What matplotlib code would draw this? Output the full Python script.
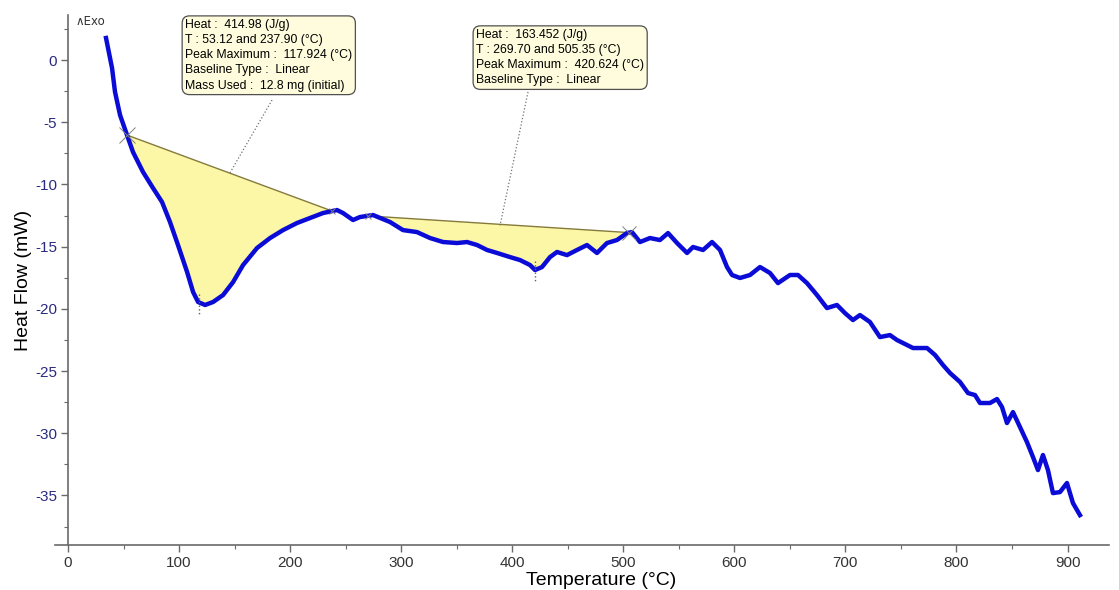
import matplotlib
matplotlib.use('Agg')
import matplotlib.pyplot as plt
import numpy as np

# Traced DSC curve: temperature (C) and heat flow (mW)
temperature = [
    34.2, 36.0, 39.6, 42.3, 46.8, 53.1, 58.5, 67.5, 76.5, 84.6,
    91.8, 99.0, 107.2, 112.6, 117.1, 123.4, 130.6, 139.6, 148.6, 157.6,
    170.2, 181.9, 193.6, 206.2, 217.9, 229.6, 242.2, 247.6, 256.6, 262.9,
    274.6, 289.9, 301.6, 314.2, 326.0, 337.7, 350.3, 359.3, 368.3, 377.3,
    386.3, 398.0, 407.0, 416.0, 420.5, 426.8, 434.0, 440.3, 449.3, 458.3,
    467.3, 476.3, 485.3, 494.3, 503.3, 507.8, 515.0, 524.0, 533.0, 540.3,
    548.4, 557.4, 562.8, 571.8, 579.9, 587.1, 593.4, 597.9, 605.1, 614.1,
    623.1, 632.1, 639.3, 650.1, 657.3, 665.4, 674.4, 683.4, 692.4, 699.6,
    706.8, 713.1, 722.1, 731.1, 740.1, 746.5, 755.5, 760.9, 773.5, 780.7,
    787.9, 794.2, 803.2, 810.4, 816.7, 821.2, 830.2, 836.5, 841.0, 845.5,
    850.9, 857.2, 863.5, 868.9, 873.4, 877.9, 882.4, 886.9, 893.2, 899.5,
    904.9, 911.2,
]
heat_flow = [
    1.77, 0.96, -0.64, -2.57, -4.42, -6.03, -7.40, -9.00, -10.29, -11.41,
    -13.02, -14.87, -17.04, -18.65, -19.45, -19.69, -19.45, -18.89, -17.85, -16.48,
    -15.11, -14.31, -13.67, -13.10, -12.70, -12.30, -12.06, -12.30, -12.86, -12.62,
    -12.46, -13.02, -13.67, -13.83, -14.31, -14.63, -14.71, -14.63, -14.87, -15.27,
    -15.51, -15.84, -16.08, -16.48, -16.88, -16.64, -15.84, -15.43, -15.68, -15.27,
    -14.87, -15.51, -14.71, -14.47, -13.91, -13.83, -14.63, -14.31, -14.47, -13.91,
    -14.71, -15.51, -15.03, -15.27, -14.63, -15.27, -16.64, -17.28, -17.52, -17.28,
    -16.64, -17.12, -17.93, -17.28, -17.28, -17.93, -18.89, -19.94, -19.69, -20.34,
    -20.90, -20.50, -21.06, -22.27, -22.11, -22.51, -22.91, -23.15, -23.15, -23.71,
    -24.52, -25.16, -25.88, -26.77, -26.93, -27.57, -27.57, -27.25, -27.89, -29.18,
    -28.30, -29.50, -30.71, -31.91, -32.96, -31.75, -32.96, -34.81, -34.73, -34.00,
    -35.61, -36.58,
]

# Peak integration limits and peak maxima (C)
peak_onsets = [53.12, 269.70]
peak_ends = [237.90, 505.35]
peak_maxima = [117.924, 420.624]

peak_labels = [
    'Heat :  414.98 (J/g)\nT : 53.12 and 237.90 (\u00b0C)\n'
    'Peak Maximum :  117.924 (\u00b0C)\nBaseline Type :  Linear\n'
    'Mass Used :  12.8 mg (initial)',
    'Heat :  163.452 (J/g)\nT : 269.70 and 505.35 (\u00b0C)\n'
    'Peak Maximum :  420.624 (\u00b0C)\nBaseline Type :  Linear',
]

CURVE_COLOR = '#0b0bd8'
FILL_COLOR = '#fbf7a6'
BASELINE_COLOR = '#857a3c'
MARK_COLOR = '#808080'

plt.rcParams['font.family'] = ['Liberation Sans', 'DejaVu Sans']
plt.rcParams['axes.unicode_minus'] = False


def draw_peak(ax, onset, end, peak, mark_sizes):
    """Fill the area between curve and linear baseline, plus the marks."""
    y0 = np.interp(onset, temperature, heat_flow)
    y1 = np.interp(end, temperature, heat_flow)
    x = np.linspace(onset, end, 600)
    y = np.interp(x, temperature, heat_flow)
    base = y0 + (y1 - y0) * (x - onset) / (end - onset)
    ax.fill_between(x, y, base, where=y <= base, interpolate=True,
                    color=FILL_COLOR, lw=0, zorder=1)
    ax.plot([onset, end], [y0, y1], color=BASELINE_COLOR, lw=1.0, zorder=2)

    # limit marks and peak marker
    for xm, ym, ms in zip([onset, end], [y0, y1], mark_sizes):
        ax.plot(xm, ym, ls='none', marker='x', ms=ms, mew=0.7,
                color=MARK_COLOR, zorder=4)
    yp = np.interp(peak, temperature, heat_flow)
    ax.plot([peak, peak], [yp + 0.7, yp - 0.9], ls=':', lw=1.0,
            color='#606060', zorder=4)


fig = plt.figure(figsize=(11.19, 5.90), dpi=100)
ax = fig.add_axes([0.0492, 0.0759, 0.9415, 0.8983])

draw_peak(ax, peak_onsets[0], peak_ends[0], peak_maxima[0], [12, 5])
draw_peak(ax, peak_onsets[1], peak_ends[1], peak_maxima[1], [5, 10])

ax.plot(temperature, heat_flow, color=CURVE_COLOR, lw=3.2,
        solid_joinstyle='round', zorder=3)

# annotation boxes with dotted leaders to the baselines
box_style = dict(boxstyle='round,pad=0.25,rounding_size=0.6',
                 fc='#fefcdc', ec='#505050', lw=0.9)
ax.text(105.5, 3.3, peak_labels[0], fontsize=8.8, va='top', ha='left',
        linespacing=1.35, bbox=box_style, zorder=6)
ax.text(367.5, 2.5, peak_labels[1], fontsize=8.8, va='top', ha='left',
        linespacing=1.35, bbox=box_style, zorder=6)
ax.plot([183.7, 145.9], [-3.22, -9.06], ls=':', lw=0.9, color='#707070', zorder=5)
ax.plot([414.2, 389.0], [-2.57, -13.30], ls=':', lw=0.9, color='#707070', zorder=5)

# "Exo" direction marker
ax.text(7.0, 3.1, '\u2227Exo', fontsize=8.5, va='center', ha='left',
        family=['DejaVu Sans'], color='#333333')

ax.set_xlim(-11.7, 937)
ax.set_ylim(-39, 3.6)
ax.set_xticks(np.arange(0, 901, 100))
ax.set_xticks(np.arange(0, 936, 50), minor=True)
ax.set_yticks(np.arange(-35, 1, 5))
ax.set_yticks(np.arange(-37.5, 3.6, 2.5), minor=True)

for side in ['top', 'right']:
    ax.spines[side].set_visible(False)
ax.spines['left'].set_position(('data', 0))
for side in ['left', 'bottom']:
    ax.spines[side].set_color('#6a6a6a')
    ax.spines[side].set_linewidth(1.2)

ax.tick_params(which='major', length=5, width=1.0, color='#6a6a6a',
               labelsize=11)
ax.tick_params(which='minor', length=3, width=0.8, color='#6a6a6a')
ax.tick_params(axis='y', labelcolor='#2a2a80', pad=3)
ax.tick_params(axis='x', labelcolor='#333333', pad=3)

ax.set_xlabel('Temperature (\u00b0C)', fontsize=14)
ax.set_ylabel('Heat Flow (mW)', fontsize=14)
ax.xaxis.set_label_coords(0.518, -0.05)
ax.yaxis.set_label_coords(-0.022, 0.5)

fig.savefig('out.png', dpi=100)
